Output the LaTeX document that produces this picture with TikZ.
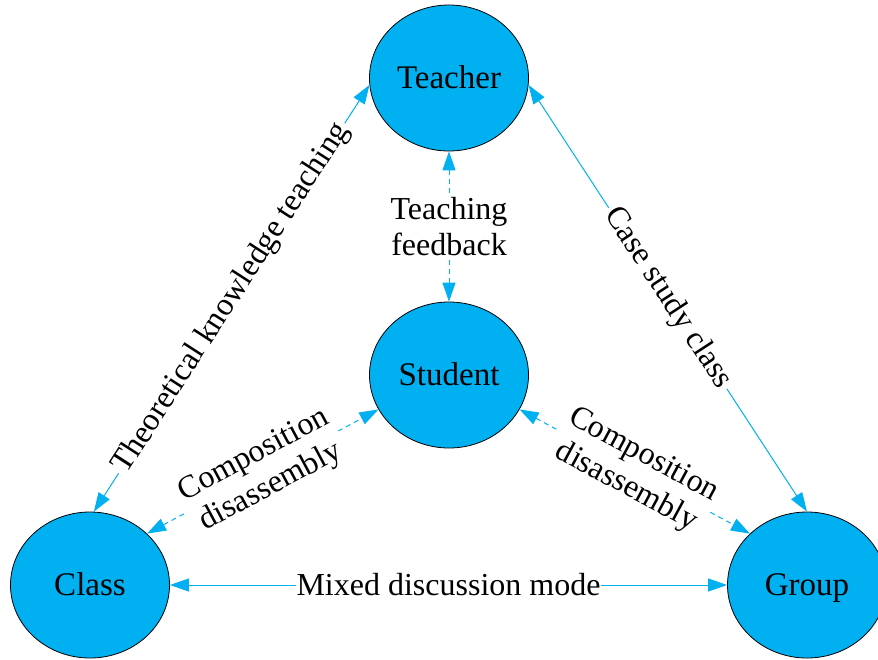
\documentclass[tikz,border=0pt]{standalone}
\usepackage{fontspec}
\setmainfont{Liberation Serif}
\usetikzlibrary{shapes.geometric,arrows.meta}
\definecolor{cyanfill}{HTML}{00B0F0}
\tikzset{
  role/.style={ellipse, draw=black, line width=0.8pt, fill=cyanfill, minimum width=159pt, minimum height=146pt, inner sep=0pt, text height=22pt, text depth=2pt, font=\fontsize{33}{36}\selectfont},
  link/.style={draw=cyanfill, line width=1pt, {Triangle[length=19pt,width=13pt]}-{Triangle[length=19pt,width=13pt]}},
  dlink/.style={link, dash pattern=on 5pt off 4pt},
  lab/.style={fill=white, inner sep=3pt, align=center, text=black, font=\fontsize{32}{36}\selectfont}
}
\begin{document}
\begin{tikzpicture}[x=1pt,y=-1pt]
\useasboundingbox (0,0) rectangle (878,659);
\clip (0,0) rectangle (878,659);
\node[role] (teacher) at (449,78) {Teacher};
\node[role] (student) at (449,375) {Student};
\node[role] (class) at (90,585) {Class};
\node[role] (group) at (807,585) {Group};
\draw[link] (class.87) -- node[lab, sloped] {Theoretical knowledge teaching} (teacher.185);
\draw[link] (teacher.355) -- node[lab, sloped] {Case study class} (group.90);
\draw[dlink] (teacher.south) -- node[lab] {Teaching\\feedback} (student.north);
\draw[dlink] (class.42) -- node[lab, sloped] {Composition\\disassembly} (student.206);
\draw[dlink] (student.334) -- node[lab, sloped] {Composition\\disassembly} (group.138);
\draw[link] (class.east) -- node[lab, inner sep=1pt] {Mixed discussion mode} (group.west);
\end{tikzpicture}
\end{document}
